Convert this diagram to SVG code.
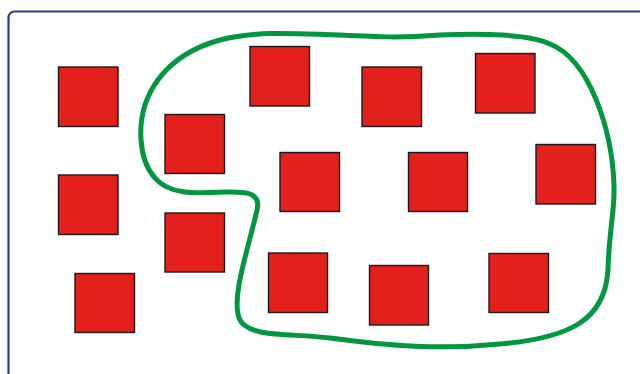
<svg xmlns="http://www.w3.org/2000/svg" width="640" height="374" viewBox="0 0 640 374">
<style>
.sq{fill:#e3201b;stroke:#1a1a1a;stroke-width:1.4}
.frame{fill:#ffffff;stroke:#2e3b86;stroke-width:2.2}
.blob{fill:none;stroke:#00973f;stroke-width:5;stroke-linejoin:round}
</style>
<rect width="640" height="374" fill="#ffffff"/>
<rect class="frame" x="8.5" y="11.5" width="650" height="380" rx="6" ry="6"/>
<g id="connectors">
<path id="set" class="blob" d="M 141,140 C 138,95 165,55 220,40 C 260,30 300,34 340,35 C 380,37 400,38 440,35 C 480,33 530,34 550,44 C 590,60 612,130 614,185 C 615,210 609,230 608,270 C 605,320 570,338 500,344 C 440,350 390,346 330,338 C 290,333 250,338 240,320 C 230,300 248,250 257,210 C 262,190 240,192 225,192 C 200,193 170,196 155,178 C 146,168 142,155 141,140 Z"/>
</g>
<g id="n1"><rect class="sq" x="58.5" y="67" width="59.5" height="59.5"/></g>
<g id="n2"><rect class="sq" x="58.5" y="175" width="59.5" height="59.5"/></g>
<g id="n3"><rect class="sq" x="75" y="273.5" width="59.5" height="59"/></g>
<g id="n4"><rect class="sq" x="165" y="114.5" width="59.5" height="59"/></g>
<g id="n5"><rect class="sq" x="165" y="213" width="59.5" height="59"/></g>
<g id="n6"><rect class="sq" x="250" y="46.5" width="59.5" height="59.5"/></g>
<g id="n7"><rect class="sq" x="362" y="67" width="59.5" height="59.5"/></g>
<g id="n8"><rect class="sq" x="475.5" y="53.5" width="59.5" height="59.5"/></g>
<g id="n9"><rect class="sq" x="280" y="152.5" width="59.5" height="59"/></g>
<g id="n10"><rect class="sq" x="408.5" y="152.5" width="59" height="59"/></g>
<g id="n11"><rect class="sq" x="536" y="144.5" width="59.5" height="59.5"/></g>
<g id="n12"><rect class="sq" x="268.5" y="253" width="59" height="59.5"/></g>
<g id="n13"><rect class="sq" x="369.5" y="265.5" width="59" height="59.5"/></g>
<g id="n14"><rect class="sq" x="489" y="253.5" width="59.5" height="59"/></g>
</svg>
